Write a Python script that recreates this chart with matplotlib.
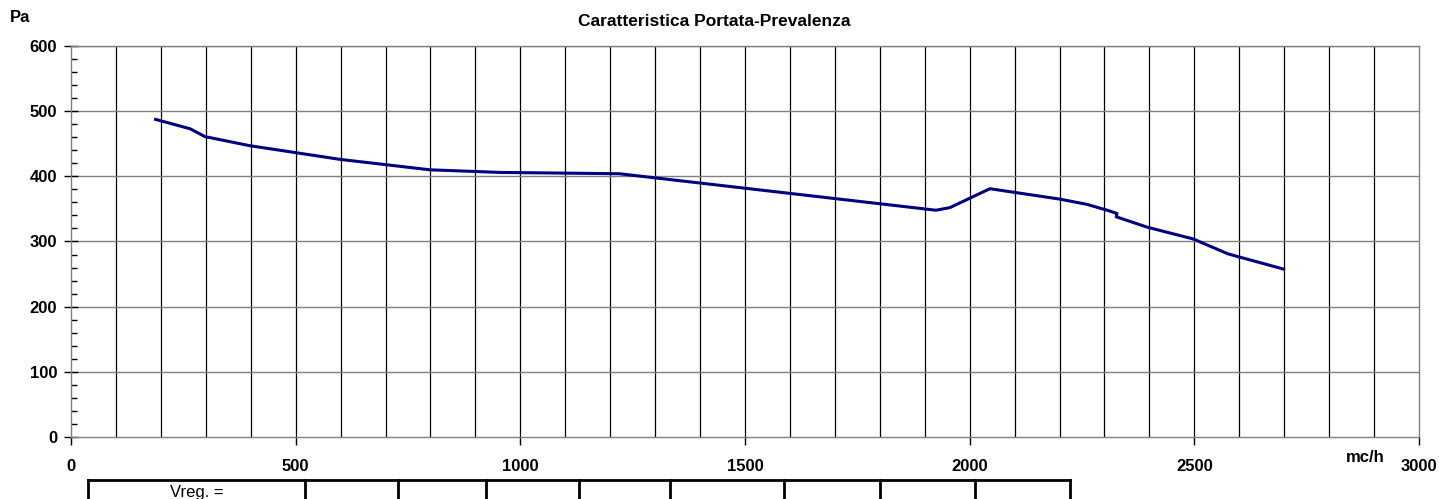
import matplotlib
matplotlib.use("Agg")
import matplotlib.pyplot as plt
from matplotlib.lines import Line2D
from matplotlib.ticker import MultipleLocator

plt.rcParams['font.family'] = ['Liberation Sans', 'DejaVu Sans']

# Data
portata = [185, 265, 298, 398, 599, 799, 955, 1220, 1925, 1956, 2045, 2201, 2261, 2306, 2328, 2326, 2395, 2497, 2575, 2702]
prevalenza = [488, 473, 461, 447, 426, 410, 406, 404, 348, 352, 381, 365, 357, 348, 343, 338, 322, 304, 281, 257]

x_ticks = [0, 500, 1000, 1500, 2000, 2500, 3000]
y_ticks = [0, 100, 200, 300, 400, 500, 600]
title = "Caratteristica Portata-Prevalenza"
y_unit = "Pa"
x_unit = "mc/h"
table_label = "Vreg. ="

W, H = 1439, 499
fig = plt.figure(figsize=(W / 100, H / 100), dpi=100)
ax = fig.add_axes([71 / W, 1 - 437 / H, (1419 - 71) / W, (437 - 46) / H])

ax.set_xlim(0, 3000)
ax.set_ylim(0, 600)

# grid
for xv in range(100, 3000, 100):
    ax.axvline(xv, color='black', lw=0.9, zorder=1)
for yv in y_ticks[1:]:
    ax.axhline(yv, color='#808080', lw=1.0, zorder=1)

ax.plot(portata, prevalenza, color='#000080', lw=2.2, zorder=3, solid_capstyle='butt')

for s in ['top', 'right', 'bottom', 'left']:
    ax.spines[s].set_color('#808080')
    ax.spines[s].set_linewidth(1.0)

ax.set_xticks(x_ticks)
ax.set_yticks(y_ticks)
ax.yaxis.set_minor_locator(MultipleLocator(20))
ax.tick_params(axis='x', which='major', direction='out', length=6, color='black', width=1,
               pad=10, labelsize=12)
ax.tick_params(axis='y', which='major', direction='inout', length=10, color='black', width=1,
               pad=5, labelsize=12)
ax.tick_params(axis='y', which='minor', direction='in', length=4, color='black', width=1)
for lab in ax.get_xticklabels() + ax.get_yticklabels():
    lab.set_fontweight('bold')

fig.text(714 / W, 1 - 21 / H, title, ha='center', va='center', fontsize=12.5, fontweight='bold')
fig.text(20 / W, 1 - 17 / H, y_unit, ha='center', va='center', fontsize=12, fontweight='bold')
fig.text(1365 / W, 1 - 457 / H, x_unit, ha='center', va='center', fontsize=12, fontweight='bold')

# Table below the chart
cells = [88, 305, 398, 486, 579, 670, 784, 880, 975, 1070]
top = 480
fig.add_artist(Line2D([cells[0] / W, cells[-1] / W], [1 - top / H, 1 - top / H],
                      transform=fig.transFigure, color='black', lw=2))
for cx in cells:
    fig.add_artist(Line2D([cx / W, cx / W], [1 - top / H, -0.05],
                          transform=fig.transFigure, color='black', lw=2))
fig.text((cells[0] + cells[1]) / 2 / W, 1 - 492 / H, table_label, ha='center', va='center', fontsize=12)

fig.savefig("out.png", dpi=100)
